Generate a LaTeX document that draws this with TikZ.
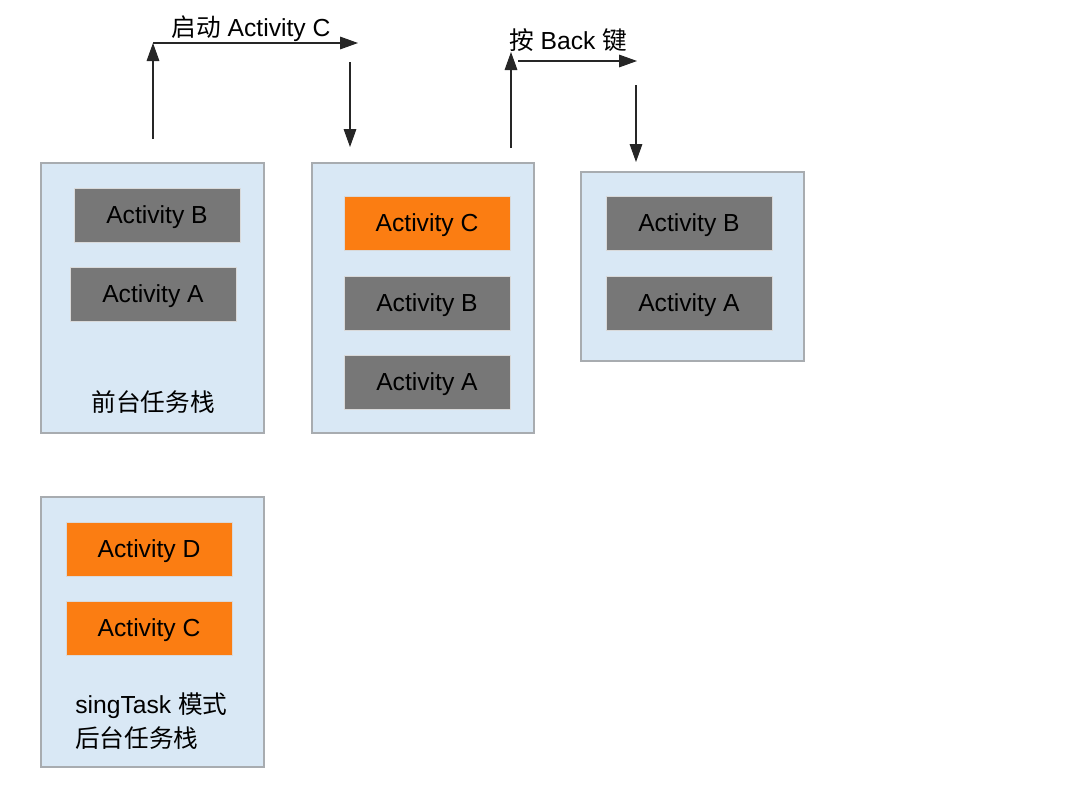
\documentclass[tikz,border=0pt]{standalone}
\usepackage{fontspec}
\setmainfont{Liberation Sans}
\newfontfamily\cjk{Noto Sans CJK SC}
\usetikzlibrary{arrows.meta}
\definecolor{stackfill}{HTML}{D9E8F5}
\definecolor{stackline}{HTML}{A8ACB0}
\definecolor{actgray}{HTML}{777777}
\definecolor{actorange}{HTML}{FB7D12}
\begin{document}
\begin{tikzpicture}[x=0.75pt,y=-0.75pt,
  sz/.style 2 args={minimum width={#1*0.75pt}, minimum height={#2*0.75pt}},
  stackbox/.style={draw=stackline, fill=stackfill, line width=0.8pt, inner sep=0pt},
  actbox/.style={draw=white!85!black, line width=0.6pt, inner sep=0pt, sz={166}{54}, font=\fontsize{18.5}{21}\selectfont, text height=13.3pt, text depth=0pt},
  grayact/.style={actbox, fill=actgray},
  orangeact/.style={actbox, fill=actorange},
  lbl/.style={inner sep=0pt, font=\fontsize{18.5}{26}\selectfont},
  arr/.style={-{Triangle[length=13.5pt,width=9.5pt]}, line width=0.8pt, draw=black!85}
]
\useasboundingbox (0,0) rectangle (1067,789);

% stacks
\node[stackbox, sz={223}{270}] (s1) at (152.5,298) {};
\node[stackbox, sz={222}{270}] (s2) at (423,298) {};
\node[stackbox, sz={223}{189}] (s3) at (692.5,266.5) {};
\node[stackbox, sz={223}{270}] (s4) at (152.5,632) {};

% stack 1
\node[grayact] (s1b) at (157,215) {Activity B};
\node[grayact] (s1a) at (153,294) {Activity A};
\node[lbl] (s1l) at (153,402) {\cjk 前台任务栈};

% stack 2
\node[orangeact] (s2c) at (427,223) {Activity C};
\node[grayact] (s2b) at (427,303) {Activity B};
\node[grayact] (s2a) at (427,382) {Activity A};

% stack 3
\node[grayact] (s3b) at (689,223) {Activity B};
\node[grayact] (s3a) at (689,303) {Activity A};

% stack 4
\node[orangeact] (s4d) at (149,549) {Activity D};
\node[orangeact] (s4c) at (149,628) {Activity C};
\node[lbl, anchor=west, align=left] (s4l) at (75,721) {sing{T}ask {\cjk 模式}\\{\cjk 后台任务栈}};

% arrows: start activity C
\coordinate (a1s) at (153,139);
\coordinate (a1t) at (153,43);
\coordinate (a1e) at (358,43);
\coordinate (a1d) at (350,62);
\coordinate (a1f) at (350,147);
\draw[arr] (a1s) -- (a1t);
\draw[arr] (a1t) -- (a1e);
\draw[arr] (a1d) -- (a1f);
\node[lbl] (l1) at (251,29) {{\cjk 启动} Activity C};

% arrows: back key
\coordinate (a2s) at (511,148);
\coordinate (a2t) at (511,52);
\coordinate (a2h) at (518,61);
\coordinate (a2e) at (637,61);
\coordinate (a2d) at (636,85);
\coordinate (a2f) at (636,162);
\draw[arr] (a2s) -- (a2t);
\draw[arr] (a2h) -- (a2e);
\draw[arr] (a2d) -- (a2f);
\node[lbl] (l2) at (568,40) {{\cjk 按} Back {\cjk 键}};
\end{tikzpicture}
\end{document}
